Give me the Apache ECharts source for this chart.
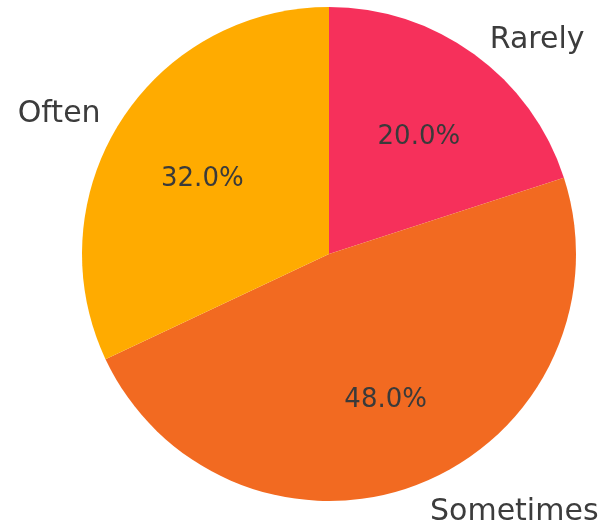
<!DOCTYPE html>
<html>
<head>
<meta charset="utf-8">
<script src="https://cdn.jsdelivr.net/npm/echarts@6/dist/echarts.min.js"></script>
<style>
  html, body { margin: 0; padding: 0; background: #ffffff; }
  #chart { width: 612px; height: 530px; }
</style>
</head>
<body>
<div id="chart"></div>
<script>
// Survey answer frequencies, drawn clockwise from 12 o'clock
const categories = ['Rarely', 'Sometimes', 'Often'];
const shares = [20, 48, 32];
const sliceColors = ['#F6305B', '#F26A21', '#FFAB00'];

const R = 247;                   // pie radius in px
const center = [329, 254];
const labelCenter = [330, 260];  // text anchors sit slightly lower than the wedges
const font = 'DejaVu Sans';

const sliceData = categories.map((name, i) => ({
  name: name,
  value: shares[i],
  itemStyle: { color: sliceColors[i] }
}));
const ghostData = categories.map((name, i) => ({
  name: name,
  value: shares[i],
  itemStyle: { color: 'rgba(0,0,0,0)' }
}));

const chart = echarts.init(document.getElementById('chart'), null, { renderer: 'canvas' });

chart.setOption({
  backgroundColor: '#ffffff',
  animation: false,
  series: [
    {
      // the visible wedges
      type: 'pie',
      center: center,
      radius: [0, R],
      startAngle: 90,
      clockwise: true,
      data: sliceData,
      itemStyle: { borderWidth: 0 },
      emphasis: { disabled: true },
      label: { show: false },
      labelLine: { show: false }
    },
    {
      // category names just outside the rim (1.1 R)
      type: 'pie',
      silent: true,
      center: labelCenter,
      radius: [0, R],
      startAngle: 90,
      clockwise: true,
      data: ghostData,
      itemStyle: { borderWidth: 0 },
      emphasis: { disabled: true },
      label: {
        show: true,
        position: 'outside',
        formatter: '{b}',
        fontFamily: font,
        fontSize: 30,
        color: '#3c3c3c',
        distanceToLabelLine: 0,
        bleedMargin: 0
      },
      labelLine: { show: false, length: 0.1 * R, length2: 0 },
      avoidLabelOverlap: false
    },
    {
      // percentages at 0.6 R (midpoint of a 1.2 R ghost ring)
      type: 'pie',
      silent: true,
      center: labelCenter,
      radius: [0, 1.2 * R],
      startAngle: 90,
      clockwise: true,
      data: ghostData,
      itemStyle: { borderWidth: 0 },
      emphasis: { disabled: true },
      label: {
        show: true,
        position: 'inside',
        formatter: p => p.percent.toFixed(1) + '%',
        fontFamily: font,
        fontSize: 26,
        color: '#3a3a3a'
      },
      labelLine: { show: false }
    }
  ]
});
</script>
</body>
</html>
